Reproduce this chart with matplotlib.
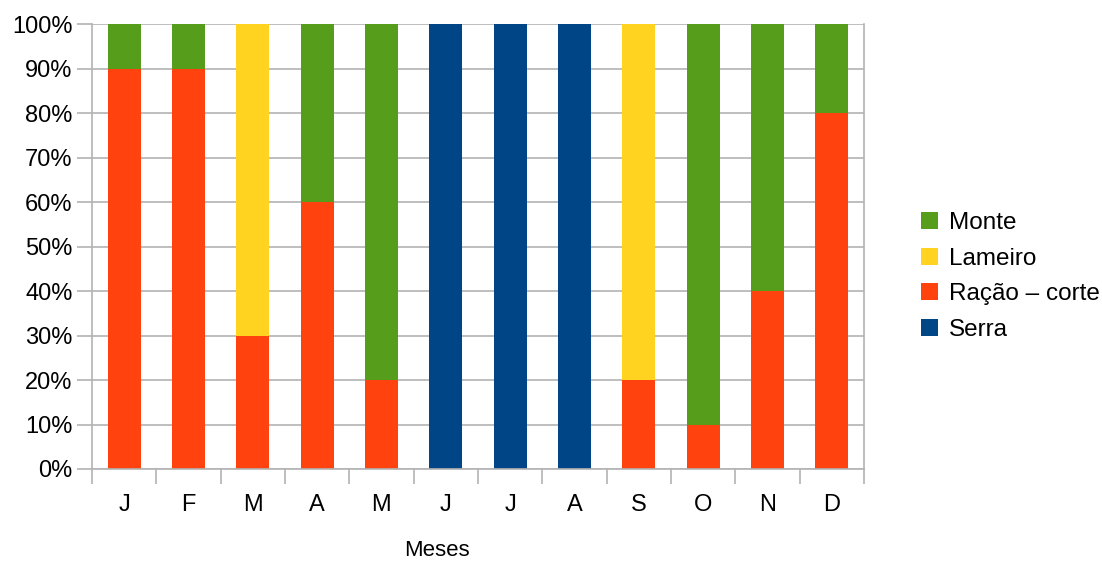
import matplotlib.pyplot as plt
import numpy as np
from matplotlib.ticker import FixedLocator, PercentFormatter

plt.rcParams['font.family'] = ['Liberation Sans', 'DejaVu Sans']

meses = ['J', 'F', 'M', 'A', 'M', 'J', 'J', 'A', 'S', 'O', 'N', 'D']
serra = [0, 0, 0, 0, 0, 100, 100, 100, 0, 0, 0, 0]
racao = [90, 90, 30, 60, 20, 0, 0, 0, 20, 10, 40, 80]
lameiro = [0, 0, 70, 0, 0, 0, 0, 0, 80, 0, 0, 0]
monte = [10, 10, 0, 40, 80, 0, 0, 0, 0, 90, 60, 20]

series = [
    ('Serra', serra, '#004586'),
    ('Ração – corte', racao, '#ff420e'),
    ('Lameiro', lameiro, '#ffd320'),
    ('Monte', monte, '#579d1c'),
]

fig = plt.figure(figsize=(11.02, 5.61), dpi=100)
ax = fig.add_axes([0.0835, 0.164, 0.7005, 0.793])

x = np.arange(len(meses))
bottom = np.zeros(len(meses))
handles = []
for name, vals, color in series:
    b = ax.bar(x, vals, width=0.51, bottom=bottom, color=color, label=name, zorder=2)
    handles.append(b)
    bottom += np.array(vals)

ax.set_xlim(-0.5, len(meses) - 0.5)
ax.set_ylim(0, 100)
ax.set_yticks(np.arange(0, 101, 10))
ax.yaxis.set_major_formatter(PercentFormatter(decimals=0))
ax.set_xticks(x)
ax.set_xticklabels(meses)
ax.xaxis.set_minor_locator(FixedLocator(np.arange(-0.5, len(meses), 1)))

ax.grid(axis='y', color='#b3b3b3', linewidth=1.2, zorder=0)
for side in ['left', 'right', 'bottom', 'top']:
    ax.spines[side].set_color('#b3b3b3')
    ax.spines[side].set_linewidth(1.2)
ax.spines['top'].set_visible(False)

ax.tick_params(axis='y', length=11, width=1.2, color='#b3b3b3', labelsize=17, pad=3)
ax.tick_params(axis='x', which='major', length=0, labelsize=17, pad=18)
ax.tick_params(axis='x', which='minor', length=11, width=1.2, color='#b3b3b3')

# axis title sits left of centre in the original
fig.text(437 / 1102, 1 - 551 / 561, 'Meses', fontsize=16, ha='center', va='center')

leg = fig.legend(handles[::-1], [s[0] for s in series][::-1], loc='center left',
                 bbox_to_anchor=(0.816, 0.507), frameon=False, fontsize=17.5,
                 handlelength=0.7, handleheight=0.7, handletextpad=0.45,
                 labelspacing=0.56)

fig.savefig('out.png', dpi=100)
